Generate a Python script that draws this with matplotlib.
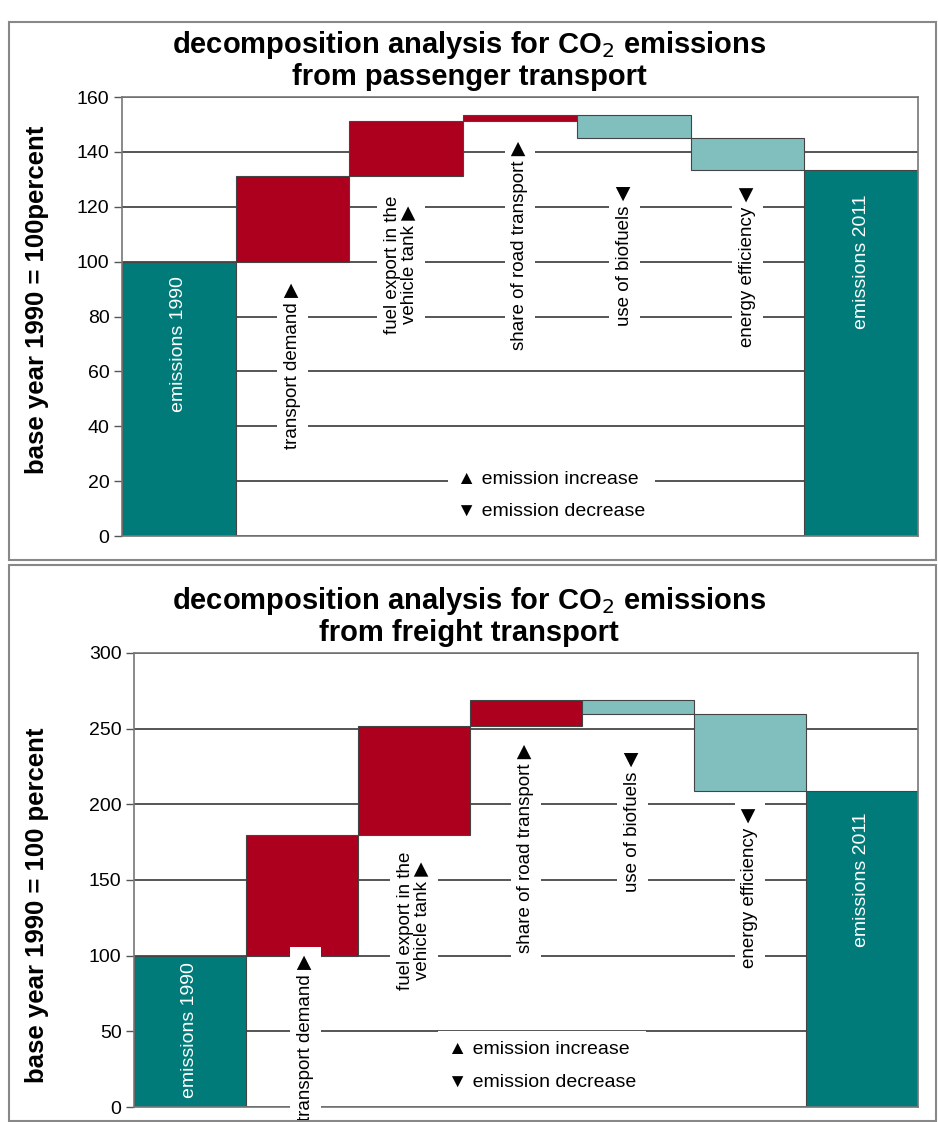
import numpy as np
import matplotlib
matplotlib.use("Agg")
import matplotlib.pyplot as plt
from matplotlib import font_manager
from matplotlib.patches import Rectangle

# ---------------- data ----------------
categories = ["emissions 1990", "transport demand", "fuel export in the\nvehicle tank",
              "share of road transport", "use of biofuels", "energy efficiency", "emissions 2011"]
passenger_steps = [100, 31.2, 20.0, 2.2, -8.4, -11.6]
freight_steps = [100, 80.0, 72.0, 17.0, -9.5, -51.0]
passenger_ticks = [0, 20, 40, 60, 80, 100, 120, 140, 160]
freight_ticks = [0, 50, 100, 150, 200, 250, 300]
titles = ["decomposition analysis for CO$_2$ emissions\nfrom passenger transport",
          "decomposition analysis for CO$_2$ emissions\nfrom freight transport"]
ylabels = ["base year 1990 = 100percent", "base year 1990 = 100 percent"]

# ---------------- style ----------------
names = {f.name for f in font_manager.fontManager.ttflist}
NARROW = "Liberation Sans Narrow" if "Liberation Sans Narrow" in names else "Liberation Sans"
SANS = "Liberation Sans"
plt.rcParams["font.family"] = [SANS, "DejaVu Sans"]

DARK_TEAL = "#007B7A"
RED = "#AD001E"
LIGHT_TEAL = "#80BFBE"
GRID = "#555555"

fig = plt.figure(figsize=(9.38, 11.22), dpi=100)

# panel frames
for (y0, y1) in [(22, 560), (565, 1121)]:
    fig.patches.append(Rectangle((9 / 938, 1 - y1 / 1122), (936 - 9) / 938, (y1 - y0) / 1122,
                                 transform=fig.transFigure, fill=False,
                                 edgecolor="#888888", lw=1.5, zorder=0))


def waterfall(ax, steps, ticks, label_pos, emis_pos, legend_pos, title, ylabel, title_y, ylabel_y):
    n = len(categories)
    x = np.arange(n)
    cum = np.cumsum(steps)
    total = cum[-1]
    bottoms, heights, colors = [], [], []
    bottoms.append(0); heights.append(steps[0]); colors.append(DARK_TEAL)
    for i in range(1, len(steps)):
        prev = cum[i - 1]
        d = steps[i]
        bottoms.append(prev if d >= 0 else prev + d)
        heights.append(abs(d))
        colors.append(RED if d >= 0 else LIGHT_TEAL)
    bottoms.append(0); heights.append(total); colors.append(DARK_TEAL)
    ax.bar(x, heights, bottom=bottoms, width=1.0, color=colors,
           edgecolor="#444444", linewidth=0.8, zorder=2)

    ax.set_xlim(-0.5, n - 0.5)
    ax.set_ylim(ticks[0], ticks[-1])
    ax.set_yticks(ticks)
    ax.set_yticklabels([str(t) for t in ticks], fontsize=14, fontfamily=NARROW)
    ax.set_xticks([])
    ax.tick_params(axis="y", length=6, width=1, color=GRID, pad=3)
    ax.yaxis.grid(True, color=GRID, linewidth=1.4)
    ax.set_axisbelow(True)
    for s in ax.spines.values():
        s.set_color("#777777")
        s.set_linewidth(1.2)

    arrows = {True: "\u25B6", False: "\u25C0"}
    for i in range(1, n - 1):
        px, py = label_pos[i - 1]
        sym = arrows[steps[i] >= 0]
        ax.text(px, py, categories[i] + " " + sym, rotation=90, ha="center", va="center",
                fontsize=13.5, multialignment="center", zorder=5, clip_on=False,
                linespacing=1.0,
                bbox=dict(facecolor="white", edgecolor="none", pad=5),
                family=[SANS, "DejaVu Sans"])
    for i, (px, py) in zip([0, n - 1], emis_pos):
        ax.text(px, py, categories[i], rotation=90, ha="center", va="center",
                fontsize=14, color="white", zorder=5)

    lx, ly = legend_pos
    ax.text(lx, ly, "\u25B2 emission increase\n\u25BC emission decrease", ha="left", va="center",
            fontsize=14, linespacing=2.2, zorder=5,
            family=[NARROW, "DejaVu Sans"],
            bbox=dict(facecolor="white", edgecolor="none", pad=7))

    fig.text(37 / 938, 1 - ylabel_y / 1122, ylabel, rotation=90, ha="center", va="center",
             fontsize=18.5, fontweight="bold")
    fig.text(0.5, title_y, title, ha="center", va="center", fontsize=21,
             fontweight="bold", family=[NARROW, "DejaVu Sans"], linespacing=1.1)


ax1 = fig.add_axes([122 / 938, 1 - 536 / 1122, (918 - 122) / 938, (536 - 97) / 1122])
waterfall(ax1, passenger_steps, passenger_ticks,
          label_pos=[(1.0, 62), (1.95, 99), (3.0, 106), (3.92, 102), (5.0, 98)],
          emis_pos=[(0.0, 70), (6.0, 100)],
          legend_pos=(2.45, 14.8),
          title=titles[0], ylabel=ylabels[0], title_y=1 - 60 / 1122, ylabel_y=300)

ax2 = fig.add_axes([134 / 938, 1 - 1107 / 1122, (918 - 134) / 938, (1107 - 653) / 1122])
waterfall(ax2, freight_steps, freight_ticks,
          label_pos=[(1.03, 46), (2.0, 123), (3.0, 171), (3.95, 188), (5.0, 145)],
          emis_pos=[(0.0, 51), (6.0, 150)],
          legend_pos=(2.3, 27.4),
          title=titles[1], ylabel=ylabels[1], title_y=1 - 616 / 1122, ylabel_y=905)

fig.savefig("out.png", dpi=100)
